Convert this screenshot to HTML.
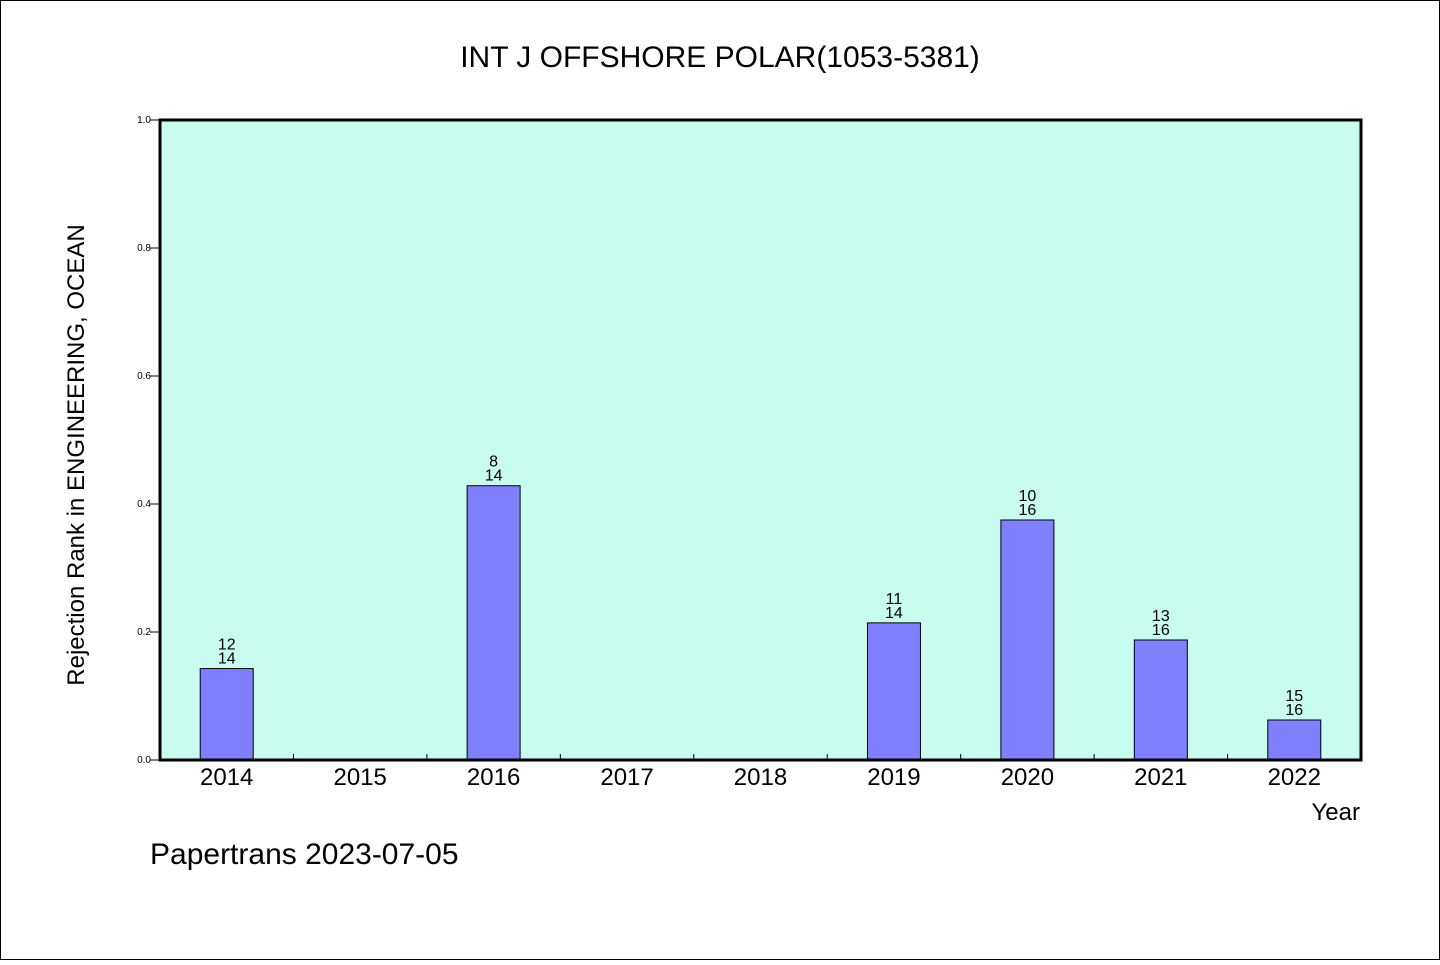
<!DOCTYPE html>
<html><head><meta charset="utf-8"><style>
body{margin:0;background:#fff}
svg text{font-family:"WenQuanYi Zen Hei","Liberation Sans",sans-serif;fill:#000}
</style></head><body>
<svg width="1440" height="960" xmlns="http://www.w3.org/2000/svg">
<rect x="0.5" y="0.5" width="1439" height="959" fill="#fff" stroke="#000"/>
<text x="720" y="67" font-size="30" text-anchor="middle">INT J OFFSHORE POLAR(1053-5381)</text>
<rect x="160" y="120" width="1201" height="640" fill="#c8fcee"/>
<g id="bars"></g>
<rect x="160" y="120" width="1201" height="640" fill="none" stroke="#000" stroke-width="3"/>
<g id="axes"></g>
<text transform="translate(84,455) rotate(-90)" font-size="24" text-anchor="middle">Rejection Rank in ENGINEERING, OCEAN</text>
<text x="1360" y="820" font-size="24" text-anchor="end">Year</text>
<text x="150" y="864" font-size="30">Papertrans 2023-07-05</text>
</svg>
<script>
const years=["2014","2015","2016","2017","2018","2019","2020","2021","2022"];
const ranks=[12,null,8,null,null,11,10,13,15];
const totals=[14,null,14,null,null,14,16,16,16];
const yTicks=[0,0.2,0.4,0.6,0.8,1.0];
const yTickLabels=["0.0","0.2","0.4","0.6","0.8","1.0"];
const NS="http://www.w3.org/2000/svg";
const x0=160,x1=1361,y0=760,y1=120,bw=(x1-x0)/years.length;
const X=i=>x0+bw*(i+0.5), Y=v=>y0-(y0-y1)*v;
function mk(t,a,p){const e=document.createElementNS(NS,t);for(const k in a)e.setAttribute(k,a[k]);p.appendChild(e);return e;}
const bars=document.getElementById('bars'),axes=document.getElementById('axes');
years.forEach((yr,i)=>{
  if(ranks[i]!=null){
    const v=1-ranks[i]/totals[i];
    const r=mk('rect',{x:X(i)-26.5,y:Y(v),width:53,height:y0-Y(v),fill:'#8080ff',stroke:'#000','stroke-width':1},bars);
    
    
    const t1=mk('text',{x:X(i),y:Y(v)-19,'font-size':16,'text-anchor':'middle'},bars);t1.textContent=ranks[i];
    
    
    const t2=mk('text',{x:X(i),y:Y(v)-5,'font-size':16,'text-anchor':'middle'},bars);t2.textContent=totals[i];
    
    
  }
  const t=mk('text',{x:X(i),y:785,'font-size':24,'text-anchor':'middle'},axes);t.textContent=yr;
  
  
  if(i>0){const l=mk('line',{x1:x0+bw*i,x2:x0+bw*i,y1:y0,y2:y0-6,stroke:'#000'},axes);
  
  }
});
yTicks.forEach((v,i)=>{
  const l=mk('line',{x1:150,x2:160,y1:Y(v),y2:Y(v),stroke:'#000'},axes);
  
  
  const t=mk('text',{x:151,y:Y(v)+3,'font-size':10,'text-anchor':'end'},axes);t.textContent=yTickLabels[i];
  
  
});
</script>
</body></html>
